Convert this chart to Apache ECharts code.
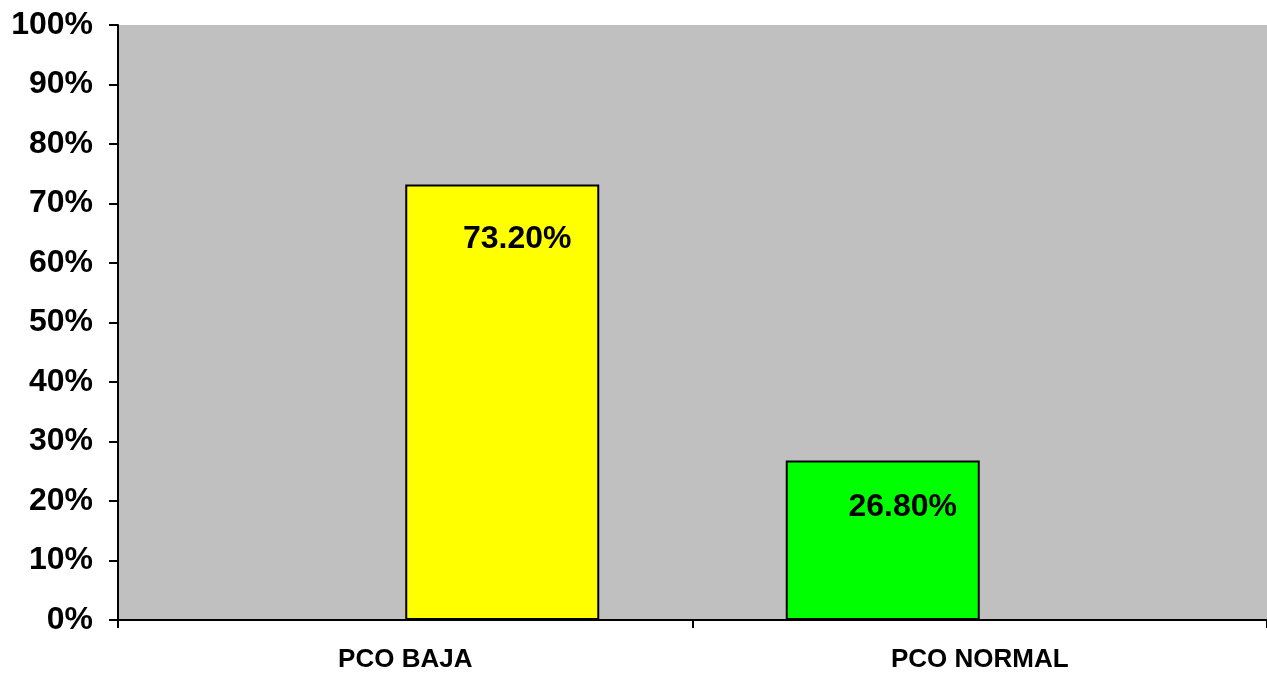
<!DOCTYPE html>
<html>
<head>
<meta charset="utf-8">
<script src="https://cdn.jsdelivr.net/npm/echarts@6/dist/echarts.min.js"></script>
<style>
html, body { margin: 0; padding: 0; background: #fff; }
#chart { width: 1267px; height: 673px; }
</style>
</head>
<body>
<div id="chart"></div>
<script>
const categories = ['PCO BAJA', 'PCO NORMAL'];
// each bar sits in its own slot of the category cluster
const normalValues = [null, 26.8];
const bajaValues = [73.2, null];
const yTicks = [0, 10, 20, 30, 40, 50, 60, 70, 80, 90, 100];

const font = 'Liberation Sans, Arial, sans-serif';

let myChart = echarts.init(document.getElementById('chart'));
const option = {
    animation: false,
    grid: {
        left: 118,
        right: -2,
        top: 25,
        bottom: 50,
        show: true,
        backgroundColor: '#c0c0c0',
        borderWidth: 0
    },
    xAxis: {
        type: 'category',
        data: categories,
        axisLine: { lineStyle: { color: '#000', width: 2 } },
        axisTick: { show: true, length: 8, lineStyle: { color: '#000', width: 2 } },
        axisLabel: {
            color: '#000',
            fontFamily: font,
            fontWeight: 'bold',
            fontSize: 26,
            margin: 27
        }
    },
    yAxis: {
        type: 'value',
        min: yTicks[0],
        max: yTicks[yTicks.length - 1],
        interval: 10,
        axisLine: { show: true, lineStyle: { color: '#000', width: 2 } },
        axisTick: { show: true, length: 9, lineStyle: { color: '#000', width: 2 } },
        splitLine: { show: false },
        axisLabel: {
            color: '#000',
            fontFamily: font,
            fontWeight: 'bold',
            fontSize: 32,
            margin: 25,
            formatter: '{value}%'
        }
    },
    series: [
        {
            name: 'PCO NORMAL',
            type: 'bar',
            barWidth: 194,
            barGap: '0%',
            data: normalValues,
            itemStyle: { color: '#00ff00', borderColor: '#000', borderWidth: 2 },
            label: {
                show: true,
                position: 'insideTop',
                offset: [20, 26],
                color: '#000',
                fontFamily: font,
                fontWeight: 'bold',
                fontSize: 32,
                formatter: function (p) { return p.value.toFixed(2) + '%'; }
            }
        },
        {
            name: 'PCO BAJA',
            type: 'bar',
            barWidth: 194,
            barGap: '0%',
            data: bajaValues,
            itemStyle: { color: '#ffff00', borderColor: '#000', borderWidth: 2 },
            label: {
                show: true,
                position: 'insideTop',
                offset: [15, 34],
                color: '#000',
                fontFamily: font,
                fontWeight: 'bold',
                fontSize: 32,
                formatter: function (p) { return p.value.toFixed(2) + '%'; }
            }
        }
    ]
};
myChart.setOption(option);
</script>
</body>
</html>
